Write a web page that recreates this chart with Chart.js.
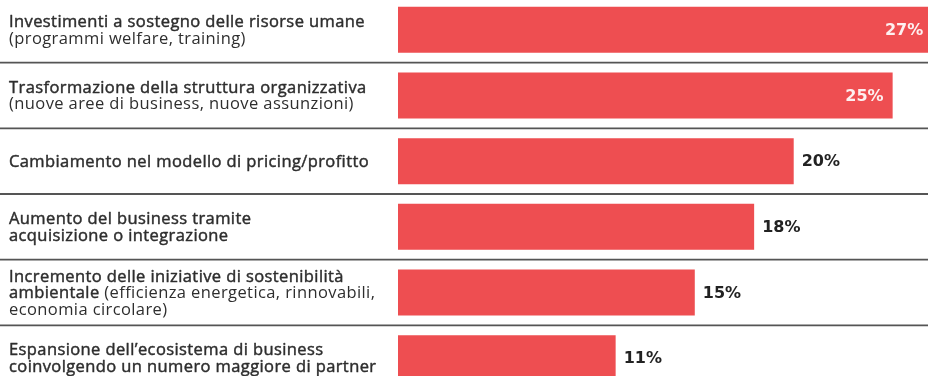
<!DOCTYPE html>
<html lang="it">
<head>
<meta charset="utf-8">
<script src="https://cdn.jsdelivr.net/npm/chart.js@4.4.1/dist/chart.umd.min.js"></script>
<style>
  html, body { margin: 0; padding: 0; background: #fff; }
  #wrap { position: relative; width: 928px; height: 376px; overflow: hidden; }
  #myChart { position: absolute; left: 0; top: -3px; }
</style>
</head>
<body>
<div id="wrap"><canvas id="myChart" width="952" height="394"></canvas></div>
<script>
/* Dati: una riga per iniziativa, testo già diviso in righe */
const categorie = [
  ['Investimenti a sostegno delle risorse umane', '(programmi welfare, training)'],
  ['Trasformazione della struttura organizzativa', '(nuove aree di business, nuove assunzioni)'],
  ['Cambiamento nel modello di pricing/profitto'],
  ['Aumento del business tramite', 'acquisizione o integrazione'],
  ['Incremento delle iniziative di sostenibilità', 'ambientale (efficienza energetica, rinnovabili,', 'economia circolare)'],
  ['Espansione dell\u2019ecosistema di business', 'coinvolgendo un numero maggiore di partner']
];
const percentuali = [27, 25, 20, 18, 15, 11];
const scalaMax = 28;

const ROSSO = '#ee4e51';
const TESTO = '#2e2e2e';
const LABEL_FONT = '"Open Sans", "Noto Sans", sans-serif';

// linee grigie tra le righe, da bordo a bordo
const separatori = {
  id: 'separatori',
  beforeDatasetsDraw(chart) {
    const { ctx } = chart;
    const y = chart.scales.y;
    ctx.save();
    ctx.strokeStyle = '#555555';
    ctx.lineWidth = 1.8;
    for (let i = 1; i < categorie.length; i++) {
      const py = (y.getPixelForValue(i - 1) + y.getPixelForValue(i)) / 2;
      ctx.beginPath();
      ctx.moveTo(0, py);
      ctx.lineTo(chart.width, py);
      ctx.stroke();
    }
    ctx.restore();
  }
};

// etichette a sinistra: testo tra parentesi in tondo, il resto un po' più marcato
const etichette = {
  id: 'etichette',
  afterDraw(chart) {
    const { ctx } = chart;
    const y = chart.scales.y;
    const lineH = 16.5;
    ctx.save();
    ctx.fillStyle = TESTO;
    ctx.strokeStyle = TESTO;
    ctx.lineWidth = 0.45;
    ctx.lineJoin = 'round';
    ctx.textBaseline = 'alphabetic';
    ctx.font = '400 16.5px ' + LABEL_FONT;
    ctx.letterSpacing = '0.4px';
    categorie.forEach((righe, i) => {
      const cy = y.getPixelForValue(i);
      let base = cy - (righe.length - 1) * lineH / 2 + 5.5;
      let inParentesi = false;
      righe.forEach(riga => {
        let x = 9;
        // spezza la riga nei pezzi dentro/fuori parentesi
        let pezzo = '';
        const flush = (marcato) => {
          if (!pezzo) return;
          ctx.fillText(pezzo, x, base);
          if (marcato) ctx.strokeText(pezzo, x, base);
          x += ctx.measureText(pezzo).width;
          pezzo = '';
        };
        for (const ch of riga) {
          if (ch === '(' && !inParentesi) { flush(true); inParentesi = true; }
          pezzo += ch;
          if (ch === ')' && inParentesi) { flush(false); inParentesi = false; }
        }
        flush(!inParentesi);
        base += lineH;
      });
    });
    ctx.restore();
  }
};

// valori percentuali: dentro la barra se lunga, altrimenti subito dopo
const valori = {
  id: 'valori',
  afterDatasetsDraw(chart) {
    const { ctx } = chart;
    const meta = chart.getDatasetMeta(0);
    ctx.save();
    ctx.font = 'bold 16px "DejaVu Sans", sans-serif';
    ctx.textBaseline = 'middle';
    meta.data.forEach((bar, i) => {
      const v = percentuali[i];
      const testo = v + '%';
      if (v / scalaMax > 0.85) {
        ctx.fillStyle = '#fdf0f0';
        ctx.textAlign = 'right';
        ctx.fillText(testo, bar.x - 9, bar.y + 1);
      } else {
        ctx.fillStyle = '#222222';
        ctx.textAlign = 'left';
        ctx.fillText(testo, bar.x + 8, bar.y + 1);
      }
    });
    ctx.restore();
  }
};

const ctx = document.getElementById('myChart').getContext('2d');
const myChart = new Chart(ctx, {
  type: 'bar',
  data: {
    labels: categorie.map(r => r.join(' ')),
    datasets: [{
      data: percentuali,
      backgroundColor: ROSSO,
      borderWidth: 0,
      barPercentage: 0.70,
      categoryPercentage: 1
    }]
  },
  options: {
    indexAxis: 'y',
    responsive: false,
    animation: false,
    layout: { padding: { left: 398, right: 0, top: 0, bottom: 0 } },
    plugins: {
      legend: { display: false },
      tooltip: { enabled: false }
    },
    scales: {
      x: { display: false, min: 0, max: scalaMax },
      y: { display: false }
    }
  },
  plugins: [separatori, etichette, valori]
});
</script>
</body>
</html>
